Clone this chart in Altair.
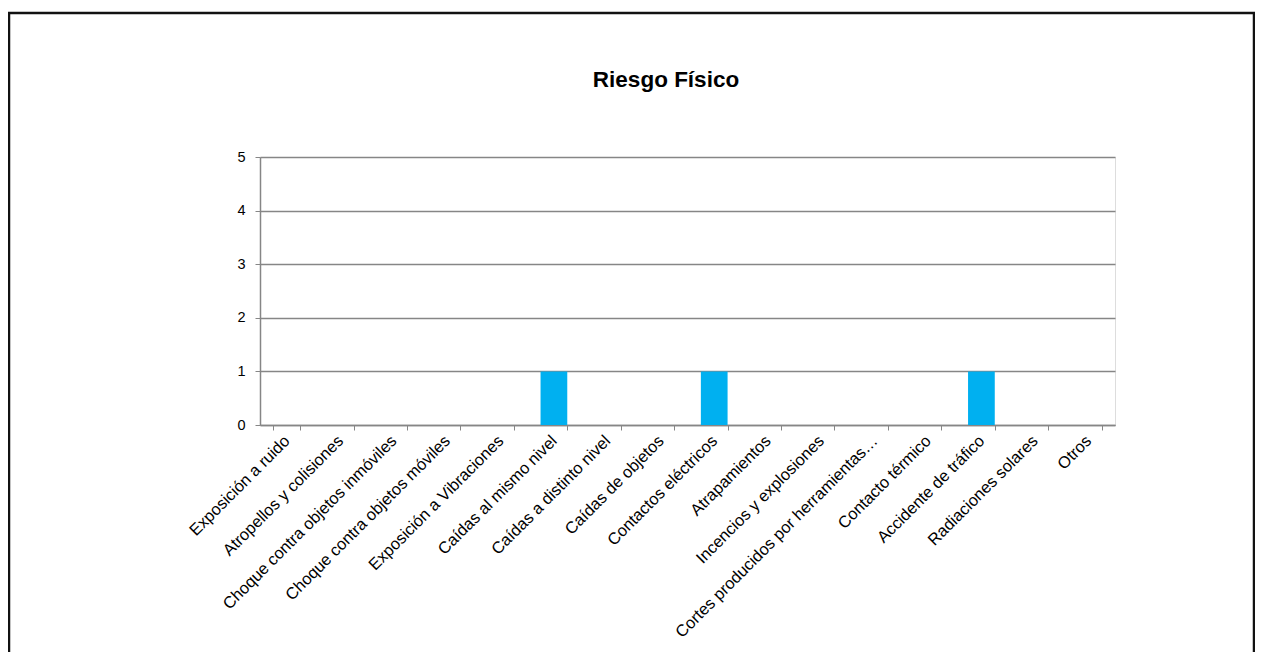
import altair as alt
import pandas as pd

categories = [
    "Exposición a ruido",
    "Atropellos y colisiones",
    "Choque contra objetos inmóviles",
    "Choque contra objetos móviles",
    "Exposición a Vibraciones",
    "Caídas al mismo nivel",
    "Caídas a distinto nivel",
    "Caídas de objetos",
    "Contactos eléctricos",
    "Atrapamientos",
    "Incencios y explosiones",
    "Cortes producidos por herramientas…",
    "Contacto térmico",
    "Accidente de tráfico",
    "Radiaciones solares",
    "Otros",
]
values = [0, 0, 0, 0, 0, 1, 0, 0, 1, 0, 0, 0, 0, 1, 0, 0]
y_ticks = [0, 1, 2, 3, 4, 5]
title_text = ["Riesgo Físico"]

df = pd.DataFrame({"cat": categories, "val": values})
tdf = pd.DataFrame({"t": title_text})

FONT = "Liberation Sans"
GRID = "#868686"

bars = alt.Chart(df).mark_bar(color="#00B0F0").encode(
    x=alt.X(
        "cat:N",
        sort=categories,
        title=None,
        scale=alt.Scale(paddingInner=0.5, paddingOuter=0.25),
        axis=alt.Axis(
            labelAngle=-45,
            labelAlign="right",
            labelBaseline="middle",
            labelFontSize=16.4,
            labelFont=FONT,
            labelColor="#000000",
            labelLimit=0,
            labelPadding=8,
            tickBand="extent",
            tickColor=GRID,
            tickSize=5,
            domainColor=GRID,
            domainWidth=1.5,
            grid=False,
        ),
    ),
    y=alt.Y(
        "val:Q",
        title=None,
        scale=alt.Scale(domain=[0, 5], nice=False),
        axis=alt.Axis(
            values=y_ticks,
            labelFontSize=14.5,
            labelFont=FONT,
            labelColor="#000000",
            labelPadding=10,
            tickColor=GRID,
            tickSize=5,
            domainColor=GRID,
            domainWidth=1.5,
            grid=True,
            gridColor=GRID,
            gridWidth=1.5,
        ),
    ),
)

title = alt.Chart(tdf).mark_text(
    font=FONT, fontSize=22.5, fontWeight="bold", color="#000000",
    align="center", baseline="alphabetic",
).encode(
    text="t:N",
    x=alt.value(406),
    y=alt.value(-70),
)

frame = alt.Chart(tdf).mark_rect(
    fillOpacity=0, stroke="#111111", strokeWidth=2.5
).encode(
    x=alt.value(-251),
    x2=alt.value(994),
    y=alt.value(-144),
    y2=alt.value(520),
)

chart = alt.layer(bars, title, frame).properties(
    width=855,
    height=268,
    autosize=alt.AutoSizeParams(type="none"),
    padding={"left": 252, "top": 149, "right": 140, "bottom": 227},
).configure_view(stroke=None).configure(background="#ffffff")

chart.save("out.html", embed_options={"renderer": "svg", "actions": False})
